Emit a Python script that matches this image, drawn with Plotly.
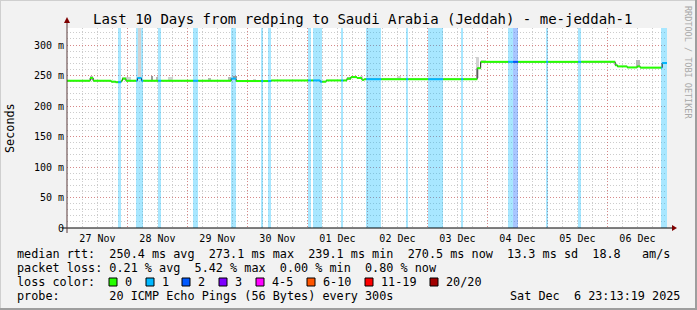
import plotly.graph_objects as go
import pandas as pd

# ---------------- data ----------------
range_start = "2025-11-26 23:50"
range_end = "2025-12-06 23:50"

median_time = [
    "2025-11-26 23:30", "2025-11-27 09:06", "2025-11-27 10:18", "2025-11-27 17:30",
    "2025-11-27 19:18", "2025-11-27 21:30", "2025-11-27 22:00", "2025-11-27 23:24",
    "2025-11-28 04:00", "2025-11-28 05:36", "2025-11-29 17:30", "2025-11-29 19:30",
    "2025-11-30 09:30", "2025-12-01 05:06", "2025-12-01 07:30", "2025-12-01 15:48",
    "2025-12-01 17:24", "2025-12-01 19:48", "2025-12-01 21:48", "2025-12-01 22:42",
    "2025-12-03 19:54", "2025-12-03 21:18", "2025-12-06 03:06", "2025-12-06 04:00",
    "2025-12-06 07:54", "2025-12-06 11:54", "2025-12-06 13:06", "2025-12-06 21:54",
]
median_rtt_ms = [
    241.5, 246.0, 241.5, 240.0,
    239.1, 241.5, 245.0, 241.5,
    246.0, 241.5, 245.0, 241.0,
    242.0, 240.0, 242.0, 245.0,
    247.5, 246.0, 243.0, 244.0,
    262.0, 272.5, 267.0, 265.0,
    263.3, 265.0, 263.0, 270.5,
]

loss_start = [
    "2025-11-27 20:18", "2025-11-28 03:30", "2025-11-28 12:18", "2025-11-29 02:18",
    "2025-11-29 17:30", "2025-11-30 05:30", "2025-11-30 08:18", "2025-12-01 00:18",
    "2025-12-01 02:18", "2025-12-01 13:30", "2025-12-01 23:30", "2025-12-02 15:30",
    "2025-12-03 00:18", "2025-12-03 13:30", "2025-12-04 08:18", "2025-12-04 10:18",
    "2025-12-04 23:30", "2025-12-05 12:18", "2025-12-06 21:30",
]
loss_end = [
    "2025-11-27 21:30", "2025-11-28 06:18", "2025-11-28 13:30", "2025-11-29 04:18",
    "2025-11-29 19:30", "2025-11-30 06:18", "2025-11-30 09:30", "2025-12-01 01:30",
    "2025-12-01 05:54", "2025-12-01 14:18", "2025-12-02 05:30", "2025-12-02 16:18",
    "2025-12-03 06:18", "2025-12-03 14:18", "2025-12-04 10:18", "2025-12-04 12:18",
    "2025-12-05 00:18", "2025-12-05 13:30", "2025-12-06 23:50",
]
loss_pings = [1, 1, 1, 1, 1, 1, 1, 1, 1, 1, 1, 1, 1, 1, 1, 2, 1, 1, 1]

smoke_start = [
    "2025-11-27 09:06", "2025-11-27 21:54", "2025-11-28 04:18", "2025-11-28 09:30",
    "2025-11-28 11:30", "2025-11-28 16:18", "2025-11-29 08:18", "2025-11-29 16:18",
    "2025-11-29 18:18", "2025-11-30 02:18", "2025-12-01 15:54", "2025-12-01 21:06",
    "2025-12-02 11:54", "2025-12-03 19:30", "2025-12-03 21:30", "2025-12-06 11:30",
]
smoke_end = [
    "2025-11-27 10:18", "2025-11-28 01:30", "2025-11-28 05:30", "2025-11-28 10:18",
    "2025-11-28 11:54", "2025-11-28 18:18", "2025-11-29 09:30", "2025-11-29 17:30",
    "2025-11-29 19:54", "2025-11-30 03:30", "2025-12-01 17:30", "2025-12-01 22:18",
    "2025-12-02 13:30", "2025-12-03 20:42", "2025-12-03 23:30", "2025-12-06 13:06",
]
smoke_low = [243, 242, 246, 242, 242, 242, 242, 242, 246, 242, 243, 247, 246, 246, 272, 264]
smoke_high = [250, 247, 340, 250, 248, 248, 246, 247, 250, 245, 248, 249, 248, 280, 276, 275]
smoke_density = [2, 1, 1, 3, 2, 1, 2, 2, 3, 1, 2, 1, 1, 1, 1, 2]

day_ticks = list(pd.date_range("2025-11-27", "2025-12-06", freq="D"))
day_labels = [d.strftime("%d %b") for d in day_ticks]

y_max = 328
y_ticks = [0, 50, 100, 150, 200, 250, 300]
y_labels = ["0", "50 m", "100 m", "150 m", "200 m", "250 m", "300 m"]

loss_names = ["0", "1", "2", "3", "4-5", "6-10", "11-19", "20/20"]
loss_colors = ["#26ff00", "#00b8ff", "#0059ff", "#7e00ff", "#ff00ff", "#ff5500", "#ff0000", "#a10000"]

title_text = "Last 10 Days from redping to Saudi Arabia (Jeddah) - me-jeddah-1"
rtt_stats = ["250.4 ms avg", "273.1 ms max", "239.1 ms min", "270.5 ms now", "13.3 ms sd", "18.8   am/s"]
loss_stats = ["0.21 % avg", "5.42 % max", "0.00 % min", "0.80 % now"]
probe_text = "20 ICMP Echo Pings (56 Bytes) every 300s"
stamp_text = "Sat Dec  6 23:13:19 2025"

# ---------------- layout constants ----------------
W_IMG, H_IMG = 697, 310
L, T, PW, PH = 67, 28, 600, 200
MONO = "DejaVu Sans Mono"
BG = "#f2f2f2"


def px(xp):
    return (xp - L) / PW


def py(yp):
    return (T + PH - yp) / PH


def loss_index(n):
    if n <= 3:
        return n
    if n <= 5:
        return 4
    if n <= 10:
        return 5
    if n <= 19:
        return 6
    return 7


def rgba(hexc, a):
    h = hexc.lstrip("#")
    return "rgba(%d,%d,%d,%.2f)" % (int(h[0:2], 16), int(h[2:4], 16), int(h[4:6], 16), a)


t_med = list(pd.to_datetime(median_time))
t_end = pd.Timestamp(range_end)
t_ls = list(pd.to_datetime(loss_start))
t_le = list(pd.to_datetime(loss_end))

fig = go.Figure()

# loss background bands
mid = [a + (b - a) / 2 for a, b in zip(t_ls, t_le)]
wid = [(b - a).total_seconds() * 1000 for a, b in zip(t_ls, t_le)]
fig.add_trace(go.Bar(
    x=mid, y=[y_max] * len(mid), base=0, width=wid,
    marker=dict(color=[rgba(loss_colors[loss_index(n)], 0.34) for n in loss_pings], line=dict(width=0)),
    hoverinfo="skip", showlegend=False,
))

# smoke
s_a = list(pd.to_datetime(smoke_start))
s_b = list(pd.to_datetime(smoke_end))
shade = {1: "#d2d2d2", 2: "#b8b8b8", 3: "#9a9a9a"}
fig.add_trace(go.Bar(
    x=[a + (b - a) / 2 for a, b in zip(s_a, s_b)],
    y=[h - l for l, h in zip(smoke_low, smoke_high)], base=smoke_low,
    width=[(b - a).total_seconds() * 1000 for a, b in zip(s_a, s_b)],
    marker=dict(color=[shade[d] for d in smoke_density], line=dict(width=0)),
    hoverinfo="skip", showlegend=False,
))

# dark step line (verticals)
fig.add_trace(go.Scatter(
    x=t_med + [t_end], y=median_rtt_ms + [median_rtt_ms[-1]],
    mode="lines", line=dict(color="#202020", width=1, shape="hv"),
    hoverinfo="skip", showlegend=False,
))


def value_at(t):
    v = median_rtt_ms[0]
    for tt, vv in zip(t_med, median_rtt_ms):
        if tt <= t:
            v = vv
    return v


def loss_at(t):
    for a, b, n in zip(t_ls, t_le, loss_pings):
        if a <= t < b:
            return n
    return 0


cuts = sorted(set(t_med + t_ls + t_le + [t_end]))
cuts = [c for c in cuts if c <= t_end]
segs = {}
for a, b in zip(cuts[:-1], cuts[1:]):
    ci = loss_index(loss_at(a))
    xs, ys = segs.setdefault(ci, ([], []))
    v = value_at(a)
    xs += [a, b, None]
    ys += [v, v, None]
for ci, (xs, ys) in sorted(segs.items()):
    fig.add_trace(go.Scatter(
        x=xs, y=ys, mode="lines", line=dict(color=loss_colors[ci], width=2),
        hoverinfo="skip", showlegend=False,
    ))

grid_minor = "rgba(143,143,143,0.45)"
grid_major = "rgba(222,80,80,0.55)"

fig.update_layout(
    width=W_IMG, height=H_IMG,
    margin=dict(l=L, r=W_IMG - L - PW, t=T, b=H_IMG - T - PH),
    paper_bgcolor=BG, plot_bgcolor="#ffffff",
    barmode="overlay", bargap=0,
    font=dict(family=MONO, color="#000000", size=10),
    xaxis=dict(
        type="date", range=[range_start, range_end],
        tickvals=day_ticks, ticktext=day_labels, ticklabelshift=30,
        showgrid=True, gridcolor=grid_major, griddash="1px,2px", gridwidth=1,
        minor=dict(dtick=6 * 3600 * 1000, showgrid=True, gridcolor=grid_minor, griddash="1px,2px", gridwidth=1),
        ticks="", showline=False, zeroline=False,
        tickfont=dict(family=MONO, size=10),
        ticklabelstandoff=3,
    ),
    yaxis=dict(
        range=[0, y_max], tickvals=y_ticks, ticktext=y_labels,
        showgrid=True, gridcolor=grid_major, griddash="1px,2px", gridwidth=1,
        minor=dict(dtick=10, showgrid=True, gridcolor=grid_minor, griddash="1px,2px", gridwidth=1),
        ticks="", showline=False, zeroline=False,
        tickfont=dict(family=MONO, size=10),
        ticklabelstandoff=2,
    ),
)

shapes = []
# axes with arrows
shapes.append(dict(type="line", xref="paper", yref="paper", x0=px(62), x1=px(673), y0=py(228), y1=py(228),
                   line=dict(color="#000000", width=1), layer="above"))
shapes.append(dict(type="line", xref="paper", yref="paper", x0=px(67), x1=px(67), y0=py(233), y1=py(22),
                   line=dict(color="#5a3a3a", width=1), layer="above"))
shapes.append(dict(type="path", xref="paper", yref="paper",
                   path="M %f %f L %f %f L %f %f Z" % (px(672), py(225), px(677), py(228), px(672), py(231)),
                   fillcolor="#7f0000", line=dict(color="#7f0000", width=0), layer="above"))
shapes.append(dict(type="path", xref="paper", yref="paper",
                   path="M %f %f L %f %f L %f %f Z" % (px(64), py(23), px(67), py(17), px(70), py(23)),
                   fillcolor="#7f0000", line=dict(color="#7f0000", width=0), layer="above"))
# frame
shapes.append(dict(type="line", xref="paper", yref="paper", x0=px(0), x1=px(697), y0=py(0.5), y1=py(0.5),
                   line=dict(color="#cfcfcf", width=1)))
shapes.append(dict(type="line", xref="paper", yref="paper", x0=px(0.5), x1=px(0.5), y0=py(0), y1=py(310),
                   line=dict(color="#cfcfcf", width=1)))
shapes.append(dict(type="line", xref="paper", yref="paper", x0=px(0), x1=px(697), y0=py(309), y1=py(309),
                   line=dict(color="#9e9e9e", width=2)))
shapes.append(dict(type="line", xref="paper", yref="paper", x0=px(696), x1=px(696), y0=py(0), y1=py(310),
                   line=dict(color="#9e9e9e", width=2)))

annotations = []


def text(xp, yp, s, size=11.8, anchor="left", color="#000000", angle=0):
    annotations.append(dict(
        x=px(xp), y=py(yp), xref="paper", yref="paper", text=s.replace(" ", "\u00a0"),
        showarrow=False, xanchor=anchor, yanchor="middle", textangle=angle,
        font=dict(family=MONO, size=size, color=color), borderpad=0,
    ))


text(362, 19, title_text, size=14, anchor="center")
text(10, 128, "Seconds", size=11.8, anchor="center", angle=-90)
text(688, 62, "RRDTOOL / TOBI OETIKER", size=8.5, anchor="center", color="#a8a8a8", angle=90)

text(16, 254, "median rtt:  " + "  ".join(rtt_stats))
text(16, 268, "packet loss: " + "  ".join(loss_stats))
text(16, 282, "loss color:")
box_x = [109, 146, 182, 219, 256, 307, 365, 430]
for bx, name, col in zip(box_x, loss_names, loss_colors):
    shapes.append(dict(type="rect", xref="paper", yref="paper", x0=px(bx), x1=px(bx + 8), y0=py(278), y1=py(286),
                       fillcolor=col, line=dict(color="#000000", width=1)))
    text(bx + 14.5, 282, name)
text(16, 296, "probe:       " + probe_text)
text(681, 296, stamp_text, anchor="right")

fig.update_layout(shapes=shapes, annotations=annotations)
fig.write_html("out.html")
